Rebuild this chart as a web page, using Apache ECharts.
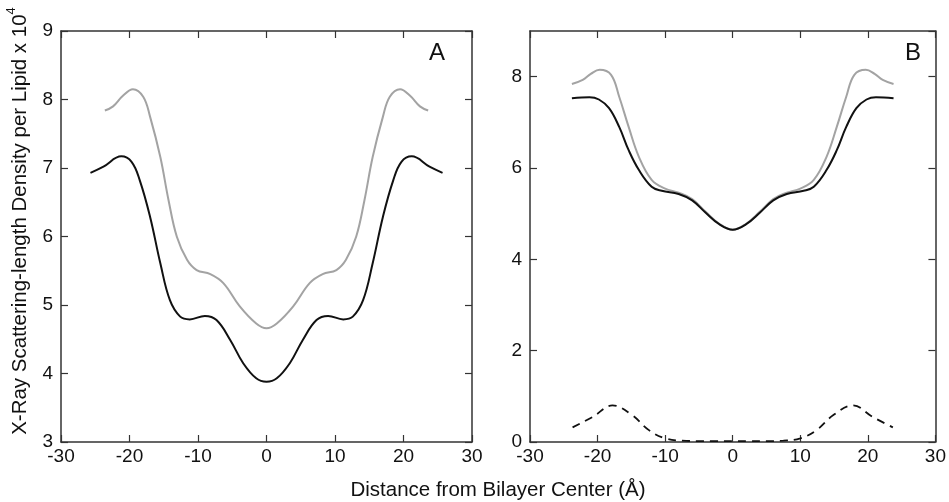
<!DOCTYPE html>
<html><head><meta charset="utf-8">
<script src="https://cdn.jsdelivr.net/npm/echarts@6/dist/echarts.min.js"></script>
<style>html,body{margin:0;padding:0;background:#fff}#c{width:949px;height:502px}</style>
</head><body><div id="c"></div>
<script>
// Panel A
const aGrayX = [-23.6,-22.4,-21.0,-19.5,-18.0,-17.0,-15.5,-14.3,-13.1,-11.6,-10.2,-8.2,-6.3,-3.9,-1.5,0,1.5,3.9,6.3,8.2,10.2,11.6,13.1,14.3,15.5,17.0,18.0,19.5,21.0,22.4,23.6];
const aGrayY = [7.84,7.90,8.05,8.15,8.04,7.75,7.16,6.53,6.00,5.66,5.51,5.45,5.32,4.98,4.73,4.66,4.73,4.98,5.32,5.45,5.51,5.66,6.00,6.53,7.16,7.75,8.04,8.15,8.05,7.90,7.84];
const aBlackX = [-25.7,-23.8,-21.2,-19.7,-18.5,-17.0,-15.5,-14.1,-12.6,-11.2,-9.0,-7.3,-5.3,-3.4,-1.5,0,1.5,3.4,5.3,7.3,9.0,11.2,12.6,14.1,15.5,17.0,18.5,19.7,21.2,23.8,25.7];
const aBlackY = [6.93,7.02,7.17,7.09,6.82,6.29,5.61,5.07,4.83,4.79,4.84,4.78,4.49,4.15,3.93,3.88,3.93,4.15,4.49,4.78,4.84,4.79,4.83,5.07,5.61,6.29,6.82,7.09,7.17,7.02,6.93];
// Panel B
const bGrayX = [-23.8,-22.2,-21.0,-19.7,-18.0,-16.8,-15.4,-13.9,-12.0,-10.0,-8.0,-6.0,-4.0,-2.0,0,2.0,4.0,6.0,8.0,10.0,12.0,13.9,15.4,16.8,18.0,19.7,21.0,22.2,23.8];
const bGrayY = [7.84,7.93,8.06,8.15,8.04,7.56,6.90,6.25,5.74,5.55,5.46,5.32,5.04,4.78,4.65,4.78,5.04,5.32,5.46,5.55,5.74,6.25,6.90,7.56,8.04,8.15,8.06,7.93,7.84];
const bBlackX = [-23.8,-21.2,-19.8,-18.3,-16.8,-15.4,-13.9,-12.0,-10.5,-8.0,-6.0,-4.0,-2.0,0,2.0,4.0,6.0,8.0,10.5,12.0,13.9,15.4,16.8,18.3,19.8,21.2,23.8];
const bBlackY = [7.53,7.55,7.50,7.31,6.90,6.39,5.96,5.59,5.50,5.43,5.29,5.02,4.77,4.65,4.77,5.02,5.29,5.43,5.50,5.59,5.96,6.39,6.90,7.31,7.50,7.55,7.53];
const bDashX = [-23.7,-20.7,-17.8,-14.9,-12.4,-10.0,-7.5,-5.0,-2.5,0,2.5,5.0,7.5,10.0,12.4,14.9,17.8,20.7,23.7];
const bDashY = [0.32,0.55,0.80,0.59,0.26,0.08,0.03,0.02,0.02,0.02,0.02,0.02,0.03,0.08,0.26,0.59,0.80,0.55,0.32];
// Axis settings
const xMin = -30, xMax = 30, xStep = 10;
const aYMin = 3, aYMax = 9, aYStep = 1;
const bYMin = 0, bYMax = 9, bYStep = 2;
const xTitle = 'Distance from Bilayer Center (Å)';
const yTitle = 'X-Ray Scattering-length Density per Lipid x 10';
const ySup = '4';
const panelLetters = ['A', 'B'];

const pairs = (xs, ys) => xs.map((x, i) => [x, ys[i]]);
const FONT = 'Liberation Sans, Arial, Helvetica, sans-serif';
const axisLine = {show: true, onZero: false, lineStyle: {color: '#333', width: 1.5}};
const tick = {show: true, inside: true, length: 7, lineStyle: {color: '#333', width: 1.2}};
function xAx(grid, pos, labels) {
  return {type: 'value', gridIndex: grid, position: pos, min: xMin, max: xMax, interval: xStep,
    axisLine, axisTick: tick, splitLine: {show: false},
    axisLabel: {show: labels, margin: 5, fontSize: 19, color: '#111', fontFamily: FONT}};
}
function yAx(grid, pos, labels, mn, mx, st, showMax) {
  return {type: 'value', gridIndex: grid, position: pos, min: mn, max: mx, interval: st,
    axisLine, axisTick: tick, splitLine: {show: false},
    axisLabel: {show: labels, margin: 8, fontSize: 19, color: '#111', fontFamily: FONT, showMaxLabel: showMax}};
}
function line(xi, yi, xs, ys, color, type, w) {
  return {type: 'line', xAxisIndex: xi, yAxisIndex: yi, data: pairs(xs, ys), smooth: 0.4,
    showSymbol: false, symbol: 'none', silent: true,
    lineStyle: {color, width: w, type}};
}
const chart = echarts.init(document.getElementById('c'), null, {renderer: 'canvas'});
chart.setOption({
  animation: false,
  backgroundColor: '#fff',
  grid: [
    {left: 61, right: 477, top: 31, bottom: 60},
    {left: 530, right: 9, top: 31, bottom: 60}
  ],
  xAxis: [xAx(0, 'bottom', true), xAx(0, 'top', false), xAx(1, 'bottom', true), xAx(1, 'top', false)],
  yAxis: [
    yAx(0, 'left', true, aYMin, aYMax, aYStep, true), yAx(0, 'right', false, aYMin, aYMax, aYStep, true),
    yAx(1, 'left', true, bYMin, bYMax, bYStep, false), yAx(1, 'right', false, bYMin, bYMax, bYStep, false)
  ],
  series: [
    line(0, 0, aGrayX, aGrayY, '#a3a3a3', 'solid', 2),
    line(0, 0, aBlackX, aBlackY, '#111', 'solid', 2),
    line(2, 2, bGrayX, bGrayY, '#a3a3a3', 'solid', 2),
    line(2, 2, bBlackX, bBlackY, '#111', 'solid', 2),
    line(2, 2, bDashX, bDashY, '#111', [8, 6], 1.8)
  ],
  graphic: [
    {type: 'text', x: 437, y: 53, style: {text: panelLetters[0], fontSize: 24, fontFamily: FONT, fill: '#111', align: 'center', verticalAlign: 'middle'}},
    {type: 'text', x: 913, y: 53, style: {text: panelLetters[1], fontSize: 24, fontFamily: FONT, fill: '#111', align: 'center', verticalAlign: 'middle'}},
    {type: 'text', x: 498, y: 490, style: {text: xTitle, fontSize: 20.5, fontFamily: FONT, fill: '#111', align: 'center', verticalAlign: 'middle'}},
    {type: 'text', x: 20, y: 221, rotation: Math.PI / 2,
      style: {text: '{n|' + yTitle + '}{s|' + ySup + '}', align: 'center', verticalAlign: 'middle', fill: '#111',
        rich: {n: {fontSize: 20.5, fontFamily: FONT, fill: '#111', lineHeight: 30, verticalAlign: 'middle'},
               s: {fontSize: 13, fontFamily: FONT, fill: '#111', verticalAlign: 'top', lineHeight: 14}}}}
  ]
});
</script></body></html>
